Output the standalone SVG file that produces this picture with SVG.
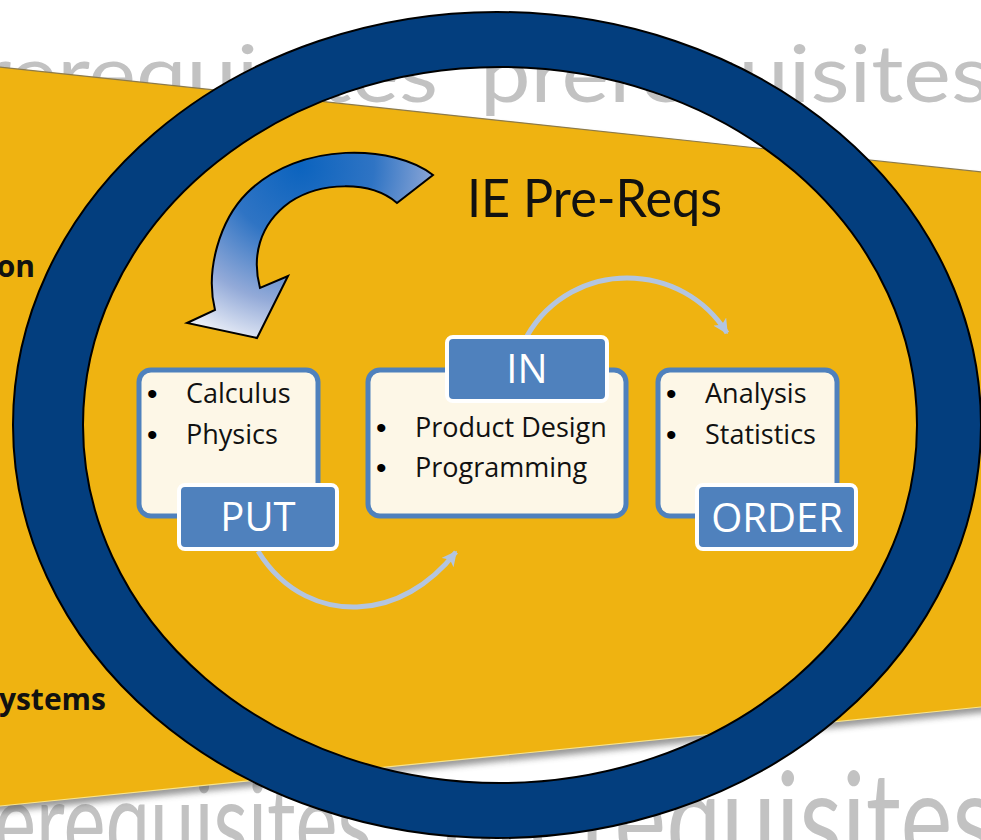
<svg xmlns="http://www.w3.org/2000/svg" width="981" height="840" viewBox="0 0 981 840">
<defs>
<style>
.wm{font-family:Lato,"Open Sans",sans-serif;font-weight:normal;fill:#c2c2c2}
.side{font-family:"Open Sans","Liberation Sans",sans-serif;font-weight:bold;font-size:30px;fill:#111}
.box{fill:#fdf7e7;stroke:#4f81bd;stroke-width:5}
.lab{fill:#4f81bd;stroke:#fff;stroke-width:4}
.labt{font-family:"Open Sans","Liberation Sans",sans-serif;font-size:40px;fill:#fff;text-anchor:middle}
.bt{font-family:"Open Sans","Liberation Sans",sans-serif;font-size:27px;fill:#111}
.bu{font-family:"Liberation Sans",sans-serif;font-size:30px;fill:#000}
.conn{fill:none;stroke:#b3c5e0;stroke-width:5}
</style>
<radialGradient id="ag" gradientUnits="userSpaceOnUse" cx="300" cy="165" r="185">
<stop offset="0" stop-color="#0b63be"/>
<stop offset="0.4" stop-color="#2f74c4"/>
<stop offset="0.75" stop-color="#93aad8"/>
<stop offset="1" stop-color="#e6ebf6"/>
</radialGradient>
<marker id="ah" viewBox="0 0 10 10" refX="9" refY="5" markerWidth="15" markerHeight="15" markerUnits="userSpaceOnUse" orient="auto">
<path d="M0,0 L10,5 L0,10 L2.5,5 Z" fill="#b3c5e0"/>
</marker>
<filter id="sh" x="-5%" y="-5%" width="110%" height="120%"><feGaussianBlur stdDeviation="3"/></filter>
</defs>

<rect width="981" height="840" fill="#fff"/>

<g id="watermark">
<text class="wm" x="-72" y="102" font-size="80" textLength="510" lengthAdjust="spacingAndGlyphs">prerequisites</text>
<text class="wm" x="480" y="102" font-size="80" textLength="510" lengthAdjust="spacingAndGlyphs">prerequisites</text>
<text class="wm" transform="translate(0,862) scale(1,1.4)" x="-78" y="0" font-size="80" textLength="450" lengthAdjust="spacingAndGlyphs">prerequisites</text>
<text class="wm" transform="translate(0,864) scale(1,1.4)" x="440" y="0" font-size="92" textLength="555" lengthAdjust="spacingAndGlyphs">prerequisites</text>
</g>

<g id="band">
<polygon points="-10,71 991,178 991,712 -10,813" fill="#444" opacity="0.55" filter="url(#sh)"/>
<polygon points="-10,66 991,173 991,706 -10,807" fill="#efb311"/>
<line x1="-10" y1="66" x2="991" y2="173" stroke="#8c7a4a" stroke-width="1.2"/>
<line x1="-10" y1="807" x2="991" y2="706" stroke="#f9e48a" stroke-width="1.2"/>
<text class="side" x="35" y="277" text-anchor="end">on</text>
<text class="side" x="106" y="710" text-anchor="end">ystems</text>
</g>

<g id="ring">
<path fill-rule="evenodd" fill="#033e7e" stroke="#000" stroke-width="2" d="M13,425 A484,413 0 1,0 981,425 A484,413 0 1,0 13,425 Z M83,425 A417,358 0 1,0 917,425 A417,358 0 1,0 83,425 Z"/>
</g>

<g id="cycle-arrow">
<path fill="url(#ag)" stroke="#000" stroke-width="2" stroke-linejoin="miter" d="M433,175 C395,145 300,140 247,193 C220,220 205,270 215,310 L187,323 L257,338 L288,276 L260,288 C252,258 258,225 290,202 C320,182 370,180 397,203 Z"/>
</g>

<g id="title">
<text x="467" y="217" font-family="Lato,'Open Sans',sans-serif" font-size="52" fill="#111" textLength="255" lengthAdjust="spacingAndGlyphs">IE Pre-Reqs</text>
</g>

<g id="connectors">
<path class="conn" marker-end="url(#ah)" d="M258,551 C285,595 325,608 357,607 C395,606 430,585 456,552"/>
<path class="conn" marker-end="url(#ah)" d="M527,336 C550,296 590,278 627,278 C668,278 705,298 727,333"/>
</g>

<g id="node-put">
<rect class="box" x="139" y="370" width="179" height="146" rx="12"/>
<text class="bu" x="147" y="404">•</text>
<text class="bt" x="186" y="403">Calculus</text>
<text class="bu" x="147" y="445">•</text>
<text class="bt" x="186" y="444">Physics</text>
<rect class="lab" x="179" y="485" width="158" height="64" rx="6"/>
<text class="labt" x="258" y="531">PUT</text>
</g>

<g id="node-in">
<rect class="box" x="368" y="370" width="258" height="146" rx="12"/>
<rect class="lab" x="447" y="337" width="160" height="64" rx="6"/>
<text class="labt" x="527" y="383">IN</text>
<text class="bu" x="376" y="438">•</text>
<text class="bt" x="415" y="437">Product Design</text>
<text class="bu" x="376" y="478">•</text>
<text class="bt" x="415" y="477">Programming</text>
</g>

<g id="node-order">
<rect class="box" x="658" y="370" width="179" height="146" rx="12"/>
<text class="bu" x="666" y="404">•</text>
<text class="bt" x="705" y="403">Analysis</text>
<text class="bu" x="666" y="445">•</text>
<text class="bt" x="705" y="444">Statistics</text>
<rect class="lab" x="697" y="485" width="159" height="64" rx="6"/>
<text class="labt" x="777" y="532">ORDER</text>
</g>
</svg>
